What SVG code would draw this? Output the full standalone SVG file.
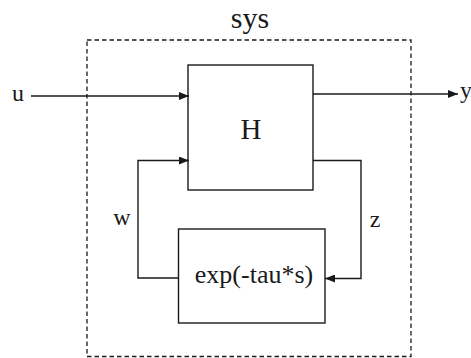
<svg xmlns="http://www.w3.org/2000/svg" width="471" height="358" viewBox="0 0 471 358">
<defs>
<marker id="ah" markerWidth="10" markerHeight="8" refX="10" refY="4" orient="auto" markerUnits="userSpaceOnUse">
<path d="M0,0 L10,4 L0,8 Z" fill="#1a1a1a"/>
</marker>
<style>
.box{fill:none;stroke:#1a1a1a;stroke-width:1.4}
.wire{fill:none;stroke:#1a1a1a;stroke-width:1.4}
.dash{fill:none;stroke:#1a1a1a;stroke-width:1.3;stroke-dasharray:4.5 3}
</style>
</defs>
<rect width="471" height="358" fill="#fff"/>
<g font-family="'Liberation Serif', 'Times New Roman', 'DejaVu Serif', serif" fill="#1a1a1a">
<g id="sys">
<rect class="dash" x="87" y="40" width="324" height="316.5"/>
<text x="250" y="28" font-size="30" text-anchor="middle">sys</text>
</g>
<g id="H">
<rect class="box" x="188" y="65" width="125" height="125"/>
<text x="251" y="139" font-size="29" text-anchor="middle">H</text>
</g>
<g id="delay">
<rect class="box" x="178.5" y="229" width="146.5" height="94"/>
<text x="254" y="283" font-size="26" text-anchor="middle">exp(-tau*s)</text>
</g>
<g id="connectors">
<line class="wire" x1="31" y1="96" x2="189" y2="96" marker-end="url(#ah)"/>
<line class="wire" x1="313" y1="94" x2="458" y2="94" marker-end="url(#ah)"/>
<polyline class="wire" points="178.5,278 138,278 138,160.5 189,160.5" marker-end="url(#ah)"/>
<polyline class="wire" points="313,160.5 361,160.5 361,278.5 325,278.5" marker-end="url(#ah)"/>
</g>
<g id="labels">
<text x="18" y="101" font-size="24" text-anchor="middle">u</text>
<text x="466" y="98" font-size="24" text-anchor="middle">y</text>
<text x="122" y="225" font-size="24" text-anchor="middle">w</text>
<text x="375" y="227" font-size="24" text-anchor="middle">z</text>
</g>
</g>
</svg>
